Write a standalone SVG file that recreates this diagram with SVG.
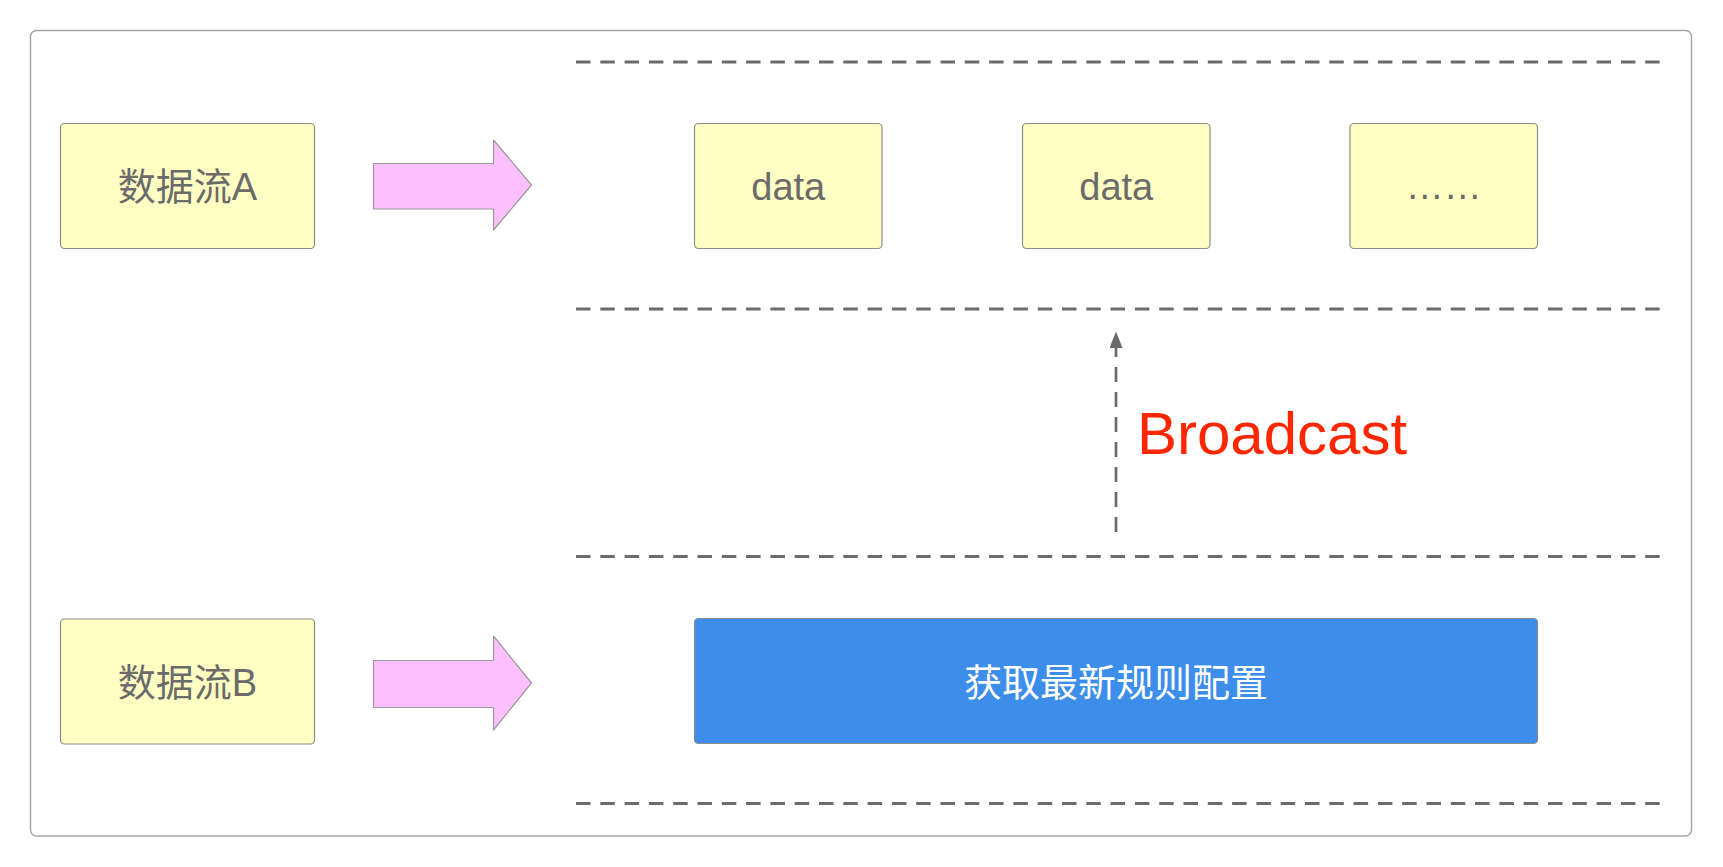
<svg xmlns="http://www.w3.org/2000/svg" width="1723" height="867" viewBox="0 0 1723 867">
<style>
.frame{fill:#ffffff;stroke:#a6a6a6;stroke-width:1.5}
.yb{fill:#ffffc3;stroke:#8c8c8c;stroke-width:1.2}
.blue{fill:#3d8eea;stroke:#8c8c8c;stroke-width:1.2}
.fat{fill:#fdbffd;stroke:#9a9a9a;stroke-width:1.2;stroke-linejoin:round}
.sep{stroke:#6b6b6b;stroke-width:3.2;stroke-dasharray:14.5 9.8;fill:none}
.t{font-family:"Liberation Sans","Noto Sans CJK SC",sans-serif;font-size:38px;fill:#6b6b6b;text-anchor:middle}
.tw{font-family:"Noto Sans CJK SC","Liberation Sans",sans-serif;font-size:38px;fill:#ffffff;text-anchor:middle}
.red{font-family:"Liberation Sans","Noto Sans CJK SC",sans-serif;font-size:60px;fill:#ff2600}
</style>
<defs>
<marker id="ah" markerUnits="userSpaceOnUse" markerWidth="17" markerHeight="13" refX="0" refY="6.5" orient="auto" viewBox="0 0 17 13">
<path d="M0,0 L16.5,6.5 L0,13 Z" fill="#6b6b6b"/>
</marker>
</defs>
<rect class="frame" x="30.5" y="30.5" width="1661" height="805.5" rx="6"/>
<g id="separators">
<line class="sep" x1="576" y1="62" x2="1662" y2="62"/>
<line class="sep" x1="576" y1="309" x2="1662" y2="309"/>
<line class="sep" x1="576" y1="556.5" x2="1662" y2="556.5"/>
<line class="sep" x1="576" y1="803.5" x2="1662" y2="803.5"/>
</g>
<g id="streamA">
<rect class="yb" x="60.5" y="123.5" width="254" height="125" rx="4"/>
<text class="t" x="187.5" y="200">数据流A</text>
</g>
<g id="streamB">
<rect class="yb" x="60.5" y="619" width="254" height="125" rx="4"/>
<text class="t" x="187.5" y="696">数据流B</text>
</g>
<g id="arrowA">
<path class="fat" d="M373.5,163.5 L493.5,163.5 L493.5,140 L531.5,185 L493.5,230 L493.5,209 L373.5,209 Z"/>
</g>
<g id="arrowB">
<path class="fat" d="M373.5,660.5 L493.5,660.5 L493.5,636 L531.5,683 L493.5,730 L493.5,707.5 L373.5,707.5 Z"/>
</g>
<g id="data1">
<rect class="yb" x="694.5" y="123.5" width="187.5" height="125" rx="4"/>
<text class="t" x="788.25" y="200">data</text>
</g>
<g id="data2">
<rect class="yb" x="1022.5" y="123.5" width="187.5" height="125" rx="4"/>
<text class="t" x="1116.25" y="200">data</text>
</g>
<g id="data3">
<rect class="yb" x="1350" y="123.5" width="187.5" height="125" rx="4"/>
<text class="t" x="1443.75" y="199">……</text>
</g>
<g id="rules">
<rect class="blue" x="694.5" y="618.5" width="843" height="125" rx="4"/>
<text class="tw" x="1116" y="696">获取最新规则配置</text>
</g>
<g id="connectors">
<path d="M1116,532 L1116,348" stroke="#6b6b6b" stroke-width="2.7" stroke-dasharray="15 10" fill="none" marker-end="url(#ah)"/>
</g>
<text class="red" x="1137" y="454">Broadcast</text>
</svg>
